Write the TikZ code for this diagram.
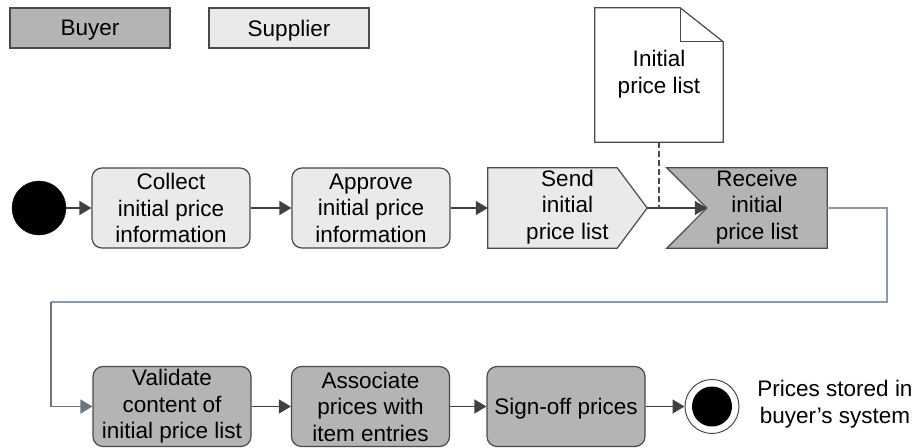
\documentclass[tikz,border=0pt]{standalone}
\usepackage{fontspec}
\setmainfont{Liberation Sans}
\usetikzlibrary{arrows.meta,calc}
\definecolor{buyerfill}{HTML}{B4B4B4}
\definecolor{supfill}{HTML}{EAEAEA}
\definecolor{edge}{HTML}{4A4A4A}
\definecolor{flow}{HTML}{404040}
\definecolor{bluegray}{HTML}{8A9AAC}
\begin{document}
\begin{tikzpicture}[x=1pt,y=-1pt,
  txt/.style={font=\fontsize{22.5}{26.5}\selectfont, align=center, inner sep=0pt},
  legendbox/.style={txt, draw=edge, line width=1.2pt, minimum width=160pt, minimum height=40pt, text depth=0pt},
  actbox/.style={txt, draw=edge, line width=1.2pt, rounded corners=10pt, minimum width=158pt, minimum height=80pt},
  shapebox/.style={txt, minimum height=80pt},
  flowline/.style={draw=flow, line width=1.5pt, -{Triangle[length=12pt,width=14pt]}},
]
\useasboundingbox (0,0) rectangle (915,447);

% legend
\node[legendbox, fill=buyerfill] (lbuyer) at (90,28) {Buyer};
\node[legendbox, fill=supfill] (lsup) at (289,28) {Supplier};

% document
\node[txt, minimum width=128pt, minimum height=134pt] (doc) at (659,75) {};
\draw[edge, line width=1.2pt, fill=white]
  (doc.north west) -- ($(doc.north east)+(-43,0)$) -- ($(doc.north east)+(0,34)$)
  -- (doc.south east) -- (doc.south west) -- cycle;
\draw[edge, line width=1.2pt]
  ($(doc.north east)+(-43,0)$) -- ($(doc.north east)+(-43,34)$) -- ($(doc.north east)+(0,34)$);
\node[txt] (doctext) at (659,74) {Initial\\price list};

% top row
\node[circle, fill=black, draw=black, minimum size=54pt, inner sep=0pt] (start) at (39,208) {};
\node[actbox, fill=supfill] (collect) at (171,208) {Collect\\initial price\\information};
\node[actbox, fill=supfill] (approve) at (371,208) {Approve\\initial price\\information};

\node[shapebox, minimum width=159pt] (send) at (567.5,208) {};
\draw[edge, line width=1.2pt, fill=supfill]
  (send.north west) -- ($(send.north east)+(-30,0)$) -- (send.east)
  -- ($(send.south east)+(-30,0)$) -- (send.south west) -- cycle;
\node[txt] (sendtext) at (567.5,207) {Send\\initial\\price list};

\node[shapebox, minimum width=140pt] (rec) at (757,208) {};
\draw[edge, line width=1.2pt, fill=buyerfill]
  ($(rec.north west)+(-20,0)$) -- (rec.north east) -- (rec.south east)
  -- ($(rec.south west)+(-20,0)$) -- ($(rec.west)+(20,0)$) -- cycle;
\node[txt] (rectext) at (757,207) {Receive\\initial\\price list};

% bottom row
\node[actbox, fill=buyerfill] (val) at (172,406.5) {Validate\\content of\\initial price list};
\node[actbox, fill=buyerfill] (assoc) at (370.5,406.5) {Associate\\prices with\\item entries};
\node[actbox, fill=buyerfill, text depth=0pt] (sign) at (566,406.5) {Sign-off prices};
\node[circle, draw=edge, line width=1pt, fill=white, minimum size=54pt, inner sep=0pt] (end) at (712,406.5) {};
\fill[black] (end.center) circle[radius=20pt];
\node[txt] (endlabel) at (835,404) {Prices stored in\\buyer’s system};

% connectors
\draw[flowline] (start) -- (collect);
\draw[flowline] (collect) -- (approve);
\draw[flowline] (approve) -- (send.west);
\draw[flowline] (send.east) -- ($(rec.west)+(20,0)$);
\draw[edge, line width=1.2pt, dash pattern=on 6pt off 3pt] (doc.south) -- (doc.south |- send.east);
\coordinate (c1) at (887,302);
\coordinate (c2) at (51,302);
\draw[draw=bluegray, line width=1.2pt] (rec.east) -| (c1) -- (c2);
\draw[flowline, draw=bluegray!60!flow] (c2) |- (val.west);
\draw[flowline] (val) -- (assoc);
\draw[flowline] (assoc) -- (sign);
\draw[flowline] (sign) -- (end);
\end{tikzpicture}
\end{document}
